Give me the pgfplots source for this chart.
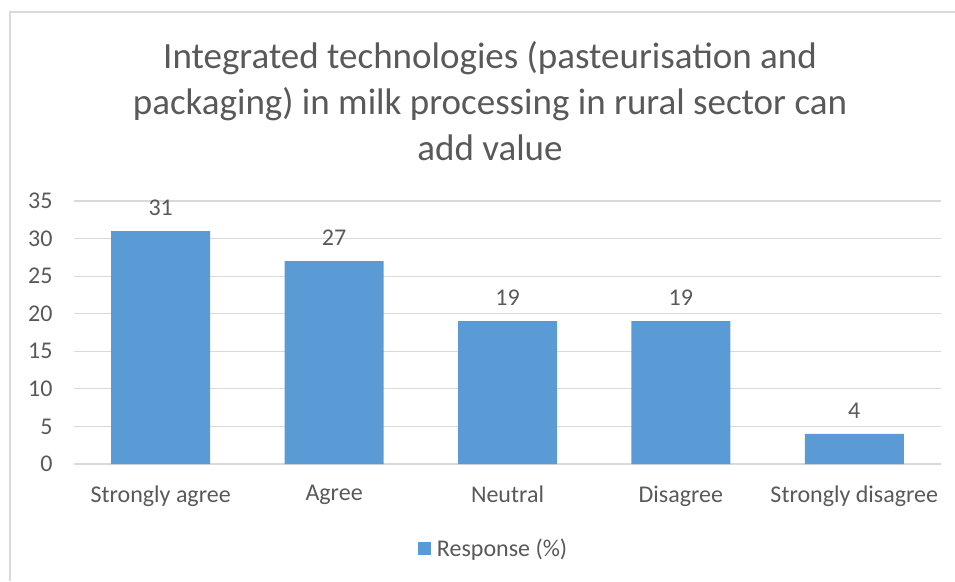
\documentclass[border=0pt]{standalone}
\usepackage{fontspec}
\setmainfont{Carlito}
\usepackage{pgfplots}
\pgfplotsset{compat=1.18}
\definecolor{barblue}{HTML}{5B9BD5}
\definecolor{txtgray}{HTML}{595959}
\definecolor{gridgray}{HTML}{D9D9D9}

\begin{document}
\begin{tikzpicture}[x=1pt,y=1pt]
\path[use as bounding box] (0,0) rectangle (955,581);
% frame of the chart area
\draw[gridgray, line width=1.3pt] (10,0) -- (10,569) -- (955,569);
% title
\node[txtgray, font=\fontsize{37}{46}\selectfont, align=center, anchor=center]
  at (490,480) {Integrated technologies (pasteurisation and\\packaging) in milk processing in rural sector can\\add value};
\begin{axis}[
  at={(74pt,117pt)}, anchor=south west,
  scale only axis, width=867pt, height=263pt,
  ybar, bar width=99pt,
  xmin=-0.5, xmax=4.5, ymin=0, ymax=35,
  ytick={0,5,...,35},
  xtick=data,
  xticklabels={Strongly agree,Agree,Neutral,Disagree,Strongly disagree},
  ymajorgrids, grid style={gridgray, line width=1.2pt},
  axis x line*=bottom, axis y line*=left,
  x axis line style={gridgray, line width=1.2pt, -},
  y axis line style={draw=none},
  major tick length=0pt,
  tick style={draw=none},
  tick label style={txtgray, font=\fontsize{24}{28}\selectfont},
  /pgf/number format/assume math mode=true,
  yticklabel style={xshift=-18pt},
  xticklabel style={yshift=-18pt},
  nodes near coords,
  every node near coord/.append style={txtgray, font=\fontsize{24}{28}\selectfont, yshift=12pt},
  legend style={draw=none, at={(0.484,-0.323)}, anchor=center,
    font=\fontsize{24}{28}\selectfont, text=txtgray,
    /tikz/every odd column/.append style={column sep=4pt}},
  legend image code/.code={\fill[barblue] (0pt,-6.5pt) rectangle (13pt,6.5pt);},
]
\addplot[fill=barblue, draw=none] coordinates {(0,31) (1,27) (2,19) (3,19) (4,4)};
\addlegendentry{Response (\%)}
\end{axis}
\end{tikzpicture}
\end{document}
